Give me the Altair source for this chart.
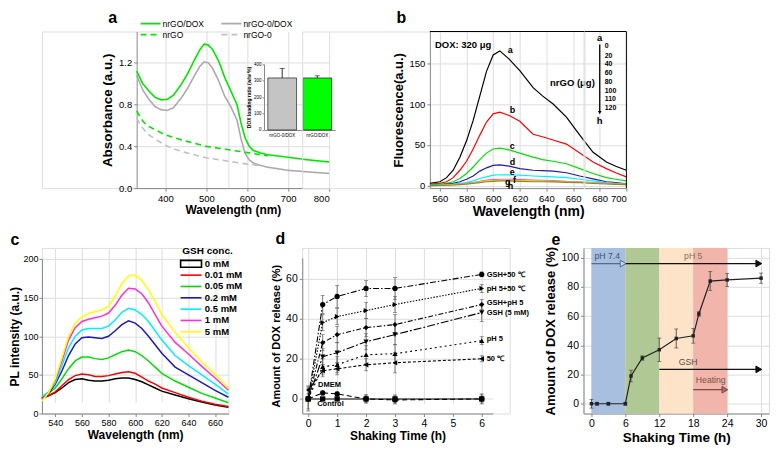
import altair as alt
import pandas as pd

FONT = "Liberation Sans"

# ---------------- panel a : UV-vis absorbance ----------------
a_wl_solid = [330, 345, 360, 375, 390, 405, 420, 440, 455, 470, 485, 495, 505, 515, 530, 545,
              560, 575, 585, 595, 605, 615, 630, 650, 700, 750, 800]
a_nrgo_dox = [1.12, 1.00, 0.93, 0.87, 0.845, 0.85, 0.89, 1.00, 1.10, 1.22, 1.33, 1.38, 1.37, 1.33,
              1.22, 1.06, 0.93, 0.80, 0.62, 0.48, 0.40, 0.36, 0.34, 0.32, 0.295, 0.27, 0.25]
a_nrgo0_dox = [1.08, 0.94, 0.85, 0.78, 0.75, 0.745, 0.77, 0.87, 0.96, 1.07, 1.17, 1.21, 1.20, 1.15,
               1.03, 0.88, 0.78, 0.65, 0.47, 0.33, 0.27, 0.24, 0.22, 0.20, 0.17, 0.155, 0.14]
a_wl_green_dash = [330, 340, 350, 360, 375, 400, 425, 450, 500, 550, 600, 650]
a_nrgo = [0.74, 0.67, 0.62, 0.59, 0.56, 0.51, 0.48, 0.45, 0.40, 0.37, 0.34, 0.31]
a_wl_gray_dash = [330, 340, 350, 360, 375, 400, 425, 450, 500, 550, 600, 640]
a_nrgo0 = [0.67, 0.60, 0.55, 0.51, 0.47, 0.41, 0.37, 0.34, 0.29, 0.26, 0.23, 0.21]
a_names = ["nrGO/DOX", "nrGO-0/DOX", "nrGO", "nrGO-0"]
a_colors = ["#00e600", "#ababab", "#00e600", "#c2c2c2"]
a_dashes = [[1, 0], [1, 0], [6, 4], [6, 4]]
a_x_domain = [330, 800]
a_y_domain = [0, 1.5]
# legend key positions (data units above the plot)
a_key_x1 = [339.7, 537, 339.7, 537]
a_key_x2 = [388.4, 585.7, 388.4, 585.7]
a_key_tx = [393.3, 590.6, 393.3, 590.6]
a_key_y = [1.576, 1.576, 1.471, 1.471]
a_letter = ("a", 271.5, 1.634)

inset_names = ["nrGO-0/DOX", "nrGO/DOX"]
inset_vals = [316, 316]
inset_errs = [58, 13]
inset_colors = ["#c4c4c4", "#00ff00"]

# ---------------- panel b : fluorescence quenching ----------------
b_wl = [552.5, 560, 565, 570, 575, 580, 585, 590, 595, 600, 605, 612, 620, 630, 637, 645, 655,
        665, 675, 685, 692, 700]
b_series = {
    "a": [3, 5, 10, 19, 35, 55, 80, 110, 140, 160, 165, 155, 141, 120, 110, 100, 84, 62, 41, 29, 24, 19],
    "b": [2, 3, 5, 10, 19, 30, 45, 62, 78, 88, 90, 86, 79, 63, 60, 56, 51, 40, 29, 21, 16, 11],
    "c": [1, 2, 3, 5, 9, 15, 23, 32, 40, 45, 46, 44, 40, 35, 32, 30, 27, 21, 15, 10, 8, 6],
    "d": [0.5, 1, 2, 3, 5, 8, 12, 18, 22, 25, 25.5, 24, 21, 19, 18.5, 18, 16, 12, 8.5, 5, 4, 2.5],
    "e": [0.5, 1, 1.5, 2, 3, 4, 6, 9, 11, 13, 13.5, 13.3, 13, 12, 11.5, 11, 10, 8, 6, 4, 3, 2],
    "f": [0.3, 0.6, 1, 1.5, 2, 3, 4, 5.5, 7, 7.5, 8, 8, 7.5, 7, 6.8, 6.5, 5.5, 5, 4, 3, 2.5, 2],
    "g": [0.3, 0.5, 0.9, 1.3, 1.8, 2.5, 3.5, 5, 6, 6.5, 7, 7, 6.5, 6, 5.8, 5.5, 5, 4.5, 3.5, 2.5, 2, 1.5],
    "h": [0.2, 0.4, 0.7, 1, 1.5, 2, 3, 4, 5, 5.5, 6, 6, 5.5, 5, 5, 4.8, 4.3, 3.8, 3, 2.2, 1.8, 1.5],
}
b_colors = ["#000000", "#ff0000", "#00e000", "#1c1cb4", "#00f0ff", "#ff40e0", "#e0e000", "#8a8a20"]
b_x_domain = [552.5, 700]
b_y_domain = [-2.8, 188.7]
b_lab_text = ["a", "b", "c", "d", "e", "f", "g", "h"]
b_lab_x = [611, 612.5, 612.5, 612.5, 612.5, 614.8, 608.8, 611]
b_lab_y = [165.5, 92.3, 48.4, 28.9, 16.7, 7, 4.5, -0.4]
b_amounts = ["0", "20", "40", "60", "80", "100", "110", "120"]
b_amount_y = [170.4, 159, 148.4, 137.8, 127.3, 116.3, 105.7, 94.8]
b_letter = ("b", 531, 205.8)

# ---------------- panel c : GSH-triggered PL ----------------
c_wl = [530, 535, 540, 545, 550, 555, 560, 565, 570, 575, 580, 585, 590, 595, 600, 605, 610, 615,
        620, 630, 640, 650, 660, 670]
c_series = {
    "0 mM": [20, 23, 27, 33, 40, 44, 45, 43, 42, 42, 43, 45, 46, 46, 44, 41, 37, 33, 29, 24, 19, 15, 11, 8],
    "0.01 mM": [20, 23, 28, 36, 44, 49, 51, 50, 48, 48, 49, 51, 53, 54, 52, 47, 42, 38, 33, 27, 21, 16, 12, 9],
    "0.05 mM": [22, 26, 33, 45, 58, 68, 73, 73, 71, 70, 72, 76, 80, 82, 80, 75, 68, 60, 52, 42, 34, 26, 20, 14],
    "0.2 mM": [19, 26, 38, 55, 75, 90, 98, 99, 98, 97, 100, 107, 115, 120, 117, 110, 100, 89, 78, 60, 50, 40, 30, 21],
    "0.5 mM": [22, 28, 40, 62, 85, 100, 108, 110, 110, 110, 113, 121, 131, 136, 134, 128, 119, 107, 95, 75, 62, 50, 38, 25],
    "1 mM": [18, 27, 43, 68, 95, 111, 119, 122, 124, 126, 130, 140, 153, 162, 161, 155, 143, 128, 113, 92, 77, 61, 46, 30],
    "5 mM": [16, 27, 45, 72, 100, 117, 125, 129, 132, 134, 139, 152, 168, 178, 179, 172, 160, 145, 128, 105, 85, 67, 51, 33],
}
c_colors = ["#000000", "#ff0000", "#00e000", "#1c1cb4", "#00f0ff", "#ff30d0", "#ffff00"]
c_key_x1, c_key_x2, c_key_tx = 634.1, 649.8, 652.3
c_key_y = [193.7, 179, 164.4, 149.7, 135, 120.4, 105.7]
c_key_title = ("GSH conc.", 654.3, 210)
c_letter = ("c", 509.8, 224.5)

# ---------------- panel d : release kinetics ----------------
d_time = [0, 0.5, 1, 2, 3, 6]
d_names = ["GSH+50 \u2103", "pH 5+50 \u2103", "GSH+pH 5", "GSH (5 mM)", "pH 5", "50 \u2103", "DMEM", "Control"]
d_values = [
    [0, 47, 51, 55, 55, 62],
    [0, 38, 41, 44, 47, 55],
    [0, 28, 32, 35.5, 37, 47],
    [0, 21, 23, 28.5, 32, 43],
    [0, 16, 17, 22, 22.5, 29],
    [4.5, 14, 15, 17, 18, 20],
    [0, 3, 2.5, 0, -0.5, 0],
    [0, 0, 0, 0, 0, 0],
]
d_errors = [
    [0, 4.5, 5.5, 4, 5.5, 1.2],
    [0, 4, 4, 4, 4, 2],
    [0, 4, 4, 4.5, 5, 2.5],
    [0, 4, 5, 4, 5, 4.5],
    [0, 4, 4, 4.5, 4.5, 2],
    [2, 3, 3, 3, 5, 1.5],
    [6, 1, 1, 2, 2, 2],
    [5, 0.5, 0.5, 2, 2, 2.5],
]
d_shapes = ["circle", "triangle-right", "diamond", "triangle-down", "triangle-up", "triangle-left", "circle", "square"]
d_dashes = [[6, 2, 1.5, 2], [1.5, 1.5], [5, 2, 1.5, 2], [8, 2, 2, 2], [2, 3], [3, 2], [5, 3], [1, 0]]
d_lab_text = ["GSH+50 \u2103", "pH 5+50 \u2103", "GSH+pH 5", "GSH (5 mM)", "pH 5", "50 \u2103", "DMEM", "Control"]
d_lab_x = [6.17, 6.17, 6.17, 6.17, 6.17, 6.17, 0.34, 0.31]
d_lab_y = [61.8, 54.7, 47.6, 42.6, 30, 20, 6.8, -2.4]
d_letter = ("d", -0.966, 79.6)

# ---------------- panel e : stepwise release ----------------
e_time = [0, 1, 3, 6, 7, 9, 12, 15, 18, 19, 21, 24, 30]
e_release = [0, 0, 0, 0, 19, 31.3, 37, 44.7, 46.5, 61.5, 84, 84.8, 86]
e_error = [3, 1, 1, 1, 4, 1.5, 8, 6.5, 5, 1.5, 6.5, 4.5, 3.5]
e_reg_start = [0, 6, 12, 18]
e_reg_end = [6, 12, 18, 24]
e_reg_colors = ["#a9bfe0", "#b0c994", "#fde3c8", "#f2b5ab"]
e_arrow_x = [0, 6, 12, 18]
e_arrow_x2 = [6, 30, 30, 24]
e_arrow_y = [96, 96, 23.5, 9.6]
e_arrow_col = ["#4f6f8c", "#111111", "#111111", "#7a4848"]
e_head_x = [5.6, 29.6, 29.6, 23.6]
e_head_fill = ["#c9d6e6", "#111111", "#111111", "#b06a6a"]
e_text = ["pH 7.4", "pH 5", "GSH", "Heating"]
e_text_x = [2.8, 18, 17.1, 21.1]
e_text_y = [101.5, 101.5, 28.9, 16]
e_text_col = ["#3d5570", "#8a6d55", "#5a4a40", "#7a5045"]
e_letter = ("e", -6.25, 112.2)

# layout (cell sizes)
W1, W2, W3 = 187, 208, 186
H1, H2 = 157, 166
GAP_COL, GAP_ROW = 74, 60


def long_df(xs_list, series, names):
    rows = []
    for xs, ys, n in zip(xs_list, series, names):
        for x, y in zip(xs, ys):
            rows.append({"x": x, "y": y, "s": n})
    return pd.DataFrame(rows)


def txt(size, bold=True, align="left", color="black"):
    return dict(font=FONT, fontSize=size, fontWeight="bold" if bold else "normal", align=align,
                baseline="middle", color=color)


def letter(spec, X, Y):
    t, x, y = spec
    return alt.Chart(pd.DataFrame({"x": [x], "y": [y], "t": [t]})).mark_text(
        **txt(16, align="center")).encode(x=X, y=Y, text="t:N")


# ======== panel a ========
a_df = long_df([a_wl_solid, a_wl_solid, a_wl_green_dash, a_wl_gray_dash],
               [a_nrgo_dox, a_nrgo0_dox, a_nrgo, a_nrgo0], a_names)
a_xscale = alt.Scale(domain=a_x_domain, range=[95, 288], nice=False, zero=False)
a_xaxis = alt.Axis(values=[400, 500, 600, 700, 800], title="Wavelength (nm)",
                   labelFontSize=9.5, titleFontSize=12, tickSize=3, titlePadding=2)
a_yscale = alt.Scale(domain=a_y_domain, nice=False)
a_yaxis = alt.Axis(values=[0, 0.4, 0.8, 1.2], format=".1f", offset=-95, tickSize=3,
                   title="Absorbance (a.u.)", labelFontSize=9.5, titleFontSize=13.5)
AX = lambda f: alt.X(f, scale=a_xscale, axis=a_xaxis)
AY = lambda f: alt.Y(f, scale=a_yscale, axis=a_yaxis)
a_col = alt.Color("s:N", scale=alt.Scale(domain=a_names, range=a_colors), legend=None)
a_dash = alt.StrokeDash("s:N", scale=alt.Scale(domain=a_names, range=a_dashes), legend=None)
a_lines = alt.Chart(a_df).mark_line(strokeWidth=1.6).encode(x=AX("x:Q"), y=AY("y:Q"), color=a_col,
                                                             strokeDash=a_dash)
a_key_df = pd.DataFrame({"x": a_key_x1, "x2": a_key_x2, "tx": a_key_tx, "y": a_key_y, "s": a_names})
a_keys = alt.Chart(a_key_df).mark_rule(strokeWidth=1.8).encode(
    x=AX("x:Q"), x2="x2:Q", y=AY("y:Q"), color=a_col, strokeDash=a_dash)
a_key_txt = alt.Chart(a_key_df).mark_text(**txt(8.5, bold=False)).encode(
    x=AX("tx:Q"), y=AY("y:Q"), text="s:N")
a_main = alt.layer(a_lines, a_keys, a_key_txt, letter(a_letter, AX("x:Q"), AY("y:Q")))

inset_df = pd.DataFrame({"n": inset_names, "v": inset_vals,
                         "top": [v + e for v, e in zip(inset_vals, inset_errs)]})
in_x = alt.X("n:N", sort=inset_names,
             scale=alt.Scale(range=[223, 294], paddingInner=0.18, paddingOuter=0.1),
             axis=alt.Axis(orient="bottom", offset=-58.3, labelFontSize=4.5, labelAngle=0, ticks=False,
                           title=None, labelPadding=3, labelFontWeight="normal"))
in_axis = alt.Axis(orient="left", offset=-222.7, values=[0, 100, 200, 300, 400], labelFontSize=4.5,
                   tickSize=2, title="DOX loading ratio (w/w %)", titleFontSize=5, titlePadding=2,
                   labelFontWeight="normal", labelPadding=1)
in_scale = alt.Scale(domain=[0, 400], range=[98.7, 32.7], nice=False)
in_bars = alt.Chart(inset_df).mark_bar(stroke="black", strokeWidth=0.6).encode(
    x=in_x, y=alt.Y("v:Q", scale=in_scale, axis=in_axis),
    color=alt.Color("n:N", scale=alt.Scale(domain=inset_names, range=inset_colors), legend=None))
in_err = alt.Chart(inset_df).mark_rule(strokeWidth=0.8, color="black").encode(
    x=in_x, y=alt.Y("v:Q", scale=in_scale, axis=in_axis), y2="top:Q")
in_cap = alt.Chart(inset_df).mark_tick(size=5, thickness=0.8, color="black", orient="horizontal").encode(
    x=in_x, y=alt.Y("top:Q", scale=in_scale, axis=in_axis))
inset = alt.layer(in_bars, in_err, in_cap)

panel_a = alt.layer(a_main, inset).resolve_scale(
    x="independent", y="independent", color="independent"
).properties(width=W1, height=H1)

# ======== panel b ========
b_names = list(b_series.keys())
b_df = long_df([b_wl] * len(b_names), list(b_series.values()), b_names)
bx = alt.X("x:Q", scale=alt.Scale(domain=b_x_domain, range=[128, 325], nice=False, zero=False),
           axis=alt.Axis(values=list(range(560, 701, 20)), title="Wavelength (nm)", tickSize=3,
                         labelFontSize=9.5, titleFontSize=14, titlePadding=2))
by = alt.Y("y:Q", scale=alt.Scale(domain=b_y_domain, nice=False, zero=False),
           axis=alt.Axis(values=[0, 50, 100, 150], title="Fluorescence(a.u.)", offset=-128, tickSize=3,
                         labelFontSize=9.5, titleFontSize=13))
b_lines = alt.Chart(b_df).mark_line(strokeWidth=1.2).encode(
    x=bx, y=by, color=alt.Color("s:N", scale=alt.Scale(domain=b_names, range=b_colors), legend=None))
b_frame_top = alt.Chart(pd.DataFrame({"x": [b_x_domain[0]], "x2": [b_x_domain[1]], "y": [b_y_domain[1]]})
                        ).mark_rule(color="black", strokeWidth=1).encode(x=bx, x2="x2:Q", y=by)
b_frame_right = alt.Chart(pd.DataFrame({"x": [b_x_domain[1]], "y": [b_y_domain[0]], "y2": [b_y_domain[1]]})
                          ).mark_rule(color="black", strokeWidth=1).encode(x=bx, y=by, y2="y2:Q")
b_lab = alt.Chart(pd.DataFrame({"x": b_lab_x, "y": b_lab_y, "t": b_lab_text})).mark_text(
    **txt(9)).encode(x=bx, y=by, text="t:N")
b_dox = alt.Chart(pd.DataFrame({"x": [556.3], "y": [172.8], "t": ["DOX: 320 \u03bcg"]})).mark_text(
    **txt(9.5)).encode(x=bx, y=by, text="t:N")
b_ah = alt.Chart(pd.DataFrame({"x": [680, 680], "y": [181.3, 78.9], "t": ["a", "h"]})).mark_text(
    **txt(9.5, align="center")).encode(x=bx, y=by, text="t:N")
b_nums = alt.Chart(pd.DataFrame({"x": [683.75] * 8, "y": b_amount_y, "t": b_amounts})).mark_text(
    **txt(7)).encode(x=bx, y=by, text="t:N")
b_nrgo = alt.Chart(pd.DataFrame({"x": [676.3], "y": [125.2], "t": ["nrGO (\u03bcg)"]})).mark_text(
    **txt(9.5, align="right")).encode(x=bx, y=by, text="t:N")
b_arrow = alt.Chart(pd.DataFrame({"x": [680], "y": [172.8], "y2": [90.5]})).mark_rule(
    color="black", strokeWidth=1.3).encode(x=bx, y=by, y2="y2:Q")
b_head = alt.Chart(pd.DataFrame({"x": [680], "y": [89.5]})).mark_point(
    shape="triangle-down", filled=True, color="black", size=14, opacity=1).encode(x=bx, y=by)
panel_b = alt.layer(b_lines, b_frame_top, b_frame_right, b_lab, b_dox, b_ah, b_nums, b_nrgo,
                    b_arrow, b_head, letter(b_letter, bx, by)).properties(width=W2, height=H1)

# ======== spacer ========
spacer = alt.Chart(pd.DataFrame({"x": [0]})).mark_point(opacity=0).encode(
    x=alt.X("x:Q", axis=None), y=alt.Y("x:Q", axis=None)).properties(width=1, height=H1)

# ======== panel c ========
c_names = list(c_series.keys())
c_df = long_df([c_wl] * len(c_names), list(c_series.values()), c_names)
c_xscale = alt.Scale(domain=[530, 670], nice=False, zero=False)
c_xaxis = alt.Axis(values=list(range(540, 661, 20)), title="Wavelength (nm)", tickSize=3,
                   labelFontSize=9, titleFontSize=12, titlePadding=2)
c_yscale = alt.Scale(domain=[0, 200], range=[H2, 11], nice=False)
c_yaxis = alt.Axis(values=[0, 50, 100, 150, 200], title="PL intensity (a.u.)", tickSize=3,
                   labelFontSize=9, titleFontSize=12, titlePadding=1, labelPadding=1)
CX = lambda f: alt.X(f, scale=c_xscale, axis=c_xaxis)
CY = lambda f: alt.Y(f, scale=c_yscale, axis=c_yaxis)
c_col = alt.Color("s:N", scale=alt.Scale(domain=c_names, range=c_colors), legend=None)
c_lines = alt.Chart(c_df).mark_line(strokeWidth=1.5).encode(x=CX("x:Q"), y=CY("y:Q"), color=c_col)
c_key_df = pd.DataFrame({"x": [c_key_x1] * len(c_names), "x2": [c_key_x2] * len(c_names),
                         "tx": [c_key_tx] * len(c_names), "y": c_key_y, "s": c_names})
c_keys = alt.Chart(c_key_df.iloc[1:]).mark_rule(strokeWidth=1.6).encode(
    x=CX("x:Q"), x2="x2:Q", y=CY("y:Q"), color=c_col)
c_box = alt.Chart(pd.DataFrame({"x": [c_key_x1], "x2": [c_key_x2], "y": [c_key_y[0] - 4.4],
                                "y2": [c_key_y[0] + 4.4]})).mark_rect(
    fill="white", fillOpacity=0, stroke="black", strokeWidth=1.6).encode(
    x=CX("x:Q"), x2="x2:Q", y=CY("y:Q"), y2="y2:Q")
c_key_txt = alt.Chart(c_key_df).mark_text(**txt(9.5)).encode(x=CX("tx:Q"), y=CY("y:Q"), text="s:N")
c_title_txt = alt.Chart(pd.DataFrame({"x": [c_key_title[1]], "y": [c_key_title[2]], "t": [c_key_title[0]]})
                        ).mark_text(**txt(10, align="center")).encode(x=CX("x:Q"), y=CY("y:Q"), text="t:N")
panel_c = alt.layer(c_lines, c_keys, c_box, c_key_txt, c_title_txt, letter(c_letter, CX("x:Q"), CY("y:Q"))
                    ).properties(width=W1, height=H2)

# ======== panel d ========
d_rows = []
for n, vals, errs in zip(d_names, d_values, d_errors):
    for t, v, e in zip(d_time, vals, errs):
        d_rows.append({"x": t, "y": v, "lo": v - e, "hi": v + e, "s": n})
d_df = pd.DataFrame(d_rows)
dx = alt.X("x:Q", scale=alt.Scale(domain=[-0.207, 6.38], range=[0, 191], nice=False, zero=False),
           axis=alt.Axis(values=list(range(0, 7)), title="Shaking Time (h)", labelFontSize=10.5,
                         titleFontSize=12, tickSize=3, titlePadding=2))
d_scale_y = alt.Scale(domain=[-7.26, 70.2], range=[H2, 10], nice=False, zero=False)
d_axis_y = alt.Axis(values=[0, 20, 40, 60], title="Amount of DOX release (%)", labelFontSize=10.5,
                    titleFontSize=11, tickSize=3)
DY = lambda f: alt.Y(f, scale=d_scale_y, axis=d_axis_y)
d_err = alt.Chart(d_df).mark_rule(color="#555555", strokeWidth=0.8).encode(x=dx, y=DY("lo:Q"), y2="hi:Q")
d_cap_lo = alt.Chart(d_df).mark_tick(color="#555555", size=4, thickness=0.8, orient="horizontal").encode(
    x=dx, y=DY("lo:Q"))
d_cap_hi = alt.Chart(d_df).mark_tick(color="#555555", size=4, thickness=0.8, orient="horizontal").encode(
    x=dx, y=DY("hi:Q"))
d_lines = alt.Chart(d_df).mark_line(color="black", strokeWidth=1.1).encode(
    x=dx, y=DY("y:Q"),
    strokeDash=alt.StrokeDash("s:N", scale=alt.Scale(domain=d_names, range=d_dashes), legend=None))
d_pts = alt.Chart(d_df).mark_point(filled=True, color="black", size=28, opacity=1).encode(
    x=dx, y=DY("y:Q"),
    shape=alt.Shape("s:N", scale=alt.Scale(domain=d_names, range=d_shapes), legend=None))
d_labels = alt.Chart(pd.DataFrame({"x": d_lab_x, "y": d_lab_y, "t": d_lab_text})).mark_text(
    **txt(7.5)).encode(x=dx, y=DY("y:Q"), text="t:N")
panel_d = alt.layer(d_err, d_cap_lo, d_cap_hi, d_lines, d_pts, d_labels, letter(d_letter, dx, DY("y:Q"))
                    ).properties(width=W2, height=H2)

# ======== panel e ========
ex_scale = alt.Scale(domain=[-1.4, 31.4], nice=False, zero=False)
ex_axis = alt.Axis(values=[0, 6, 12, 18, 24, 30], title="Shaking Time (h)", labelFontSize=10.5,
                   titleFontSize=13.5, tickSize=3, titlePadding=2)
ey_scale = alt.Scale(domain=[-6.7, 106.7], nice=False, zero=False)
ey_axis = alt.Axis(values=[0, 20, 40, 60, 80, 100], title="Amount of DOX release (%)",
                   labelFontSize=10.5, titleFontSize=13, tickSize=3)
e_df = pd.DataFrame({"x": e_time, "y": e_release,
                     "lo": [v - e for v, e in zip(e_release, e_error)],
                     "hi": [v + e for v, e in zip(e_release, e_error)]})
EX = lambda f: alt.X(f, scale=ex_scale, axis=ex_axis)
EY = lambda f: alt.Y(f, scale=ey_scale, axis=ey_axis)
e_reg = alt.Chart(pd.DataFrame({"x": e_reg_start, "x2": e_reg_end, "c": e_reg_colors})).mark_rect(
    opacity=1).encode(x=EX("x:Q"), x2="x2:Q", color=alt.Color("c:N", scale=None))
e_err = alt.Chart(e_df).mark_rule(color="#333333", strokeWidth=0.8).encode(
    x=EX("x:Q"), y=EY("lo:Q"), y2="hi:Q")
e_cap_lo = alt.Chart(e_df).mark_tick(color="#333333", size=4, thickness=0.8, orient="horizontal").encode(
    x=EX("x:Q"), y=EY("lo:Q"))
e_cap_hi = alt.Chart(e_df).mark_tick(color="#333333", size=4, thickness=0.8, orient="horizontal").encode(
    x=EX("x:Q"), y=EY("hi:Q"))
e_line = alt.Chart(e_df).mark_line(color="#222222", strokeWidth=1.2).encode(x=EX("x:Q"), y=EY("y:Q"))
e_pts = alt.Chart(e_df).mark_point(shape="square", filled=True, color="#222222", size=12, opacity=1).encode(
    x=EX("x:Q"), y=EY("y:Q"))
e_arrows = alt.Chart(pd.DataFrame({"x": e_arrow_x, "x2": e_arrow_x2, "y": e_arrow_y, "c": e_arrow_col})
                     ).mark_rule(strokeWidth=1.3).encode(
    x=EX("x:Q"), x2="x2:Q", y=EY("y:Q"), color=alt.Color("c:N", scale=None))
e_heads = alt.Chart(pd.DataFrame({"x": e_head_x, "y": e_arrow_y, "f": e_head_fill, "c": e_arrow_col})
                    ).mark_point(shape="triangle-right", size=45, opacity=1, filled=True,
                                 strokeWidth=1).encode(
    x=EX("x:Q"), y=EY("y:Q"), fill=alt.Fill("f:N", scale=None), stroke=alt.Stroke("c:N", scale=None))
e_texts = alt.Chart(pd.DataFrame({"x": e_text_x, "y": e_text_y, "t": e_text, "c": e_text_col})).mark_text(
    font=FONT, fontSize=8.7, align="center", baseline="middle").encode(
    x=EX("x:Q"), y=EY("y:Q"), text="t:N", color=alt.Color("c:N", scale=None))
panel_e = alt.layer(e_reg, e_err, e_cap_lo, e_cap_hi, e_line, e_pts, e_arrows, e_heads, e_texts,
                    letter(e_letter, EX("x:Q"), EY("y:Q"))).properties(width=W3, height=H2)

chart = alt.concat(
    panel_a, panel_b, spacer, panel_c, panel_d, panel_e,
    columns=3, spacing={"row": GAP_ROW, "column": GAP_COL}, bounds="flush", align="each",
).resolve_scale(
    color="independent", strokeDash="independent", shape="independent"
).properties(
    padding={"left": 0, "top": 0, "right": 0, "bottom": 0}
).configure_view(stroke=None).configure_axis(
    labelFont=FONT, titleFont=FONT, labelFontWeight="bold", titleFontWeight="bold",
    domainColor="black", tickColor="black", labelColor="black", titleColor="black",
    grid=False, tickSize=4, domainWidth=1, tickWidth=1,
).configure(background="white")

chart.save("out.html", embed_options={"renderer": "svg", "actions": False})
